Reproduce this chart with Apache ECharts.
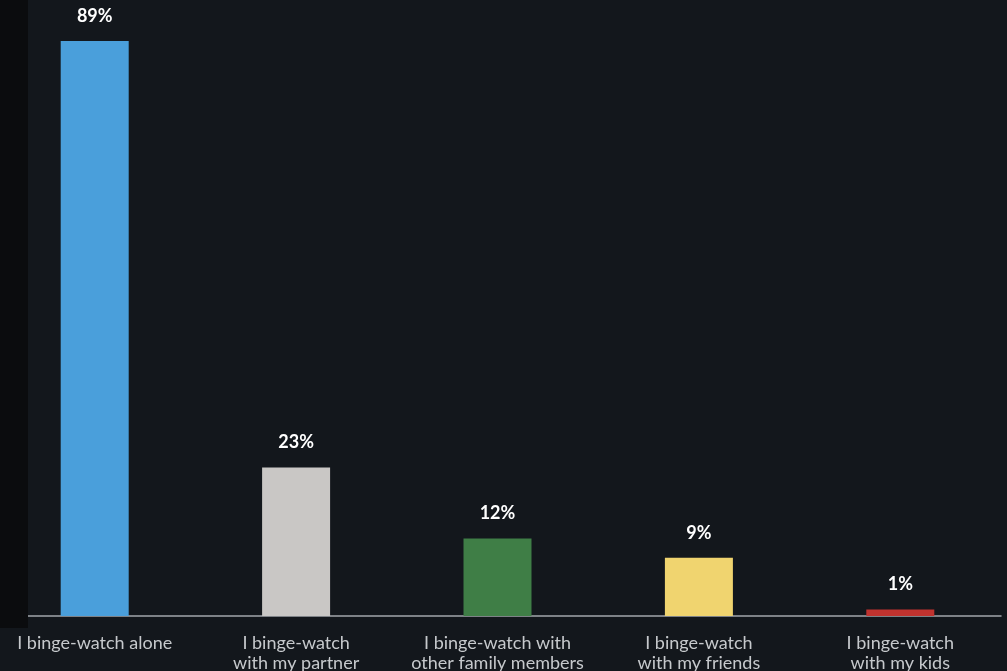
<!DOCTYPE html>
<html>
<head>
<meta charset="utf-8">
<script src="https://cdn.jsdelivr.net/npm/echarts@6/dist/echarts.min.js"></script>
<style>
  html, body { margin: 0; padding: 0; background: #13171c; overflow: hidden; }
  #chart { width: 1007px; height: 671px; }
</style>
</head>
<body>
<div id="chart"></div>
<script>
// Who people binge-watch with (share of respondents, %)
const categories = [
  'I binge-watch alone',
  'I binge-watch\nwith my partner',
  'I binge-watch with\nother family members',
  'I binge-watch\nwith my friends',
  'I binge-watch\nwith my kids'
];
const shares = [89, 23, 12, 9, 1];
const barColors = ['#4a9fdb', '#c9c7c5', '#3f7e46', '#f0d46f', '#c1332f'];

const chart = echarts.init(document.getElementById('chart'));

chart.setOption({
  backgroundColor: '#13171c',
  animation: false,
  grid: {
    left: -6, right: 6, top: 41, bottom: 55,
    containLabel: false,
    outerBoundsMode: 'none'
  },
  xAxis: {
    type: 'category',
    data: categories,
    axisLine: { show: true, lineStyle: { color: '#a3a7ab', width: 1.5 } },
    axisTick: { show: false },
    axisLabel: {
      color: '#c6c9cc',
      fontFamily: 'Lato, "Open Sans", sans-serif',
      fontSize: 18,
      lineHeight: 20,
      margin: 17,
      interval: 0
    }
  },
  yAxis: {
    type: 'value',
    min: 0,
    max: 89,
    show: false,
    splitLine: { show: false }
  },
  series: [{
    type: 'bar',
    barWidth: 68,
    data: shares.map((v, i) => ({ value: v, itemStyle: { color: barColors[i] } })),
    label: {
      show: true,
      position: 'top',
      distance: 16,
      formatter: '{c}%',
      color: '#ffffff',
      fontFamily: 'Lato, "Open Sans", sans-serif',
      fontWeight: 'bold',
      fontSize: 18
    }
  }],
  graphic: [
    // darker strip along the left edge
    { type: 'rect', left: 0, top: 0, z: 100,
      shape: { width: 28, height: 628 },
      style: { fill: '#0b0c0e' } },
    // trim the axis line at the right edge
    { type: 'rect', right: 0, top: 600, z: 100,
      shape: { width: 4, height: 30 },
      style: { fill: '#13171c' } }
  ]
});
</script>
</body>
</html>
